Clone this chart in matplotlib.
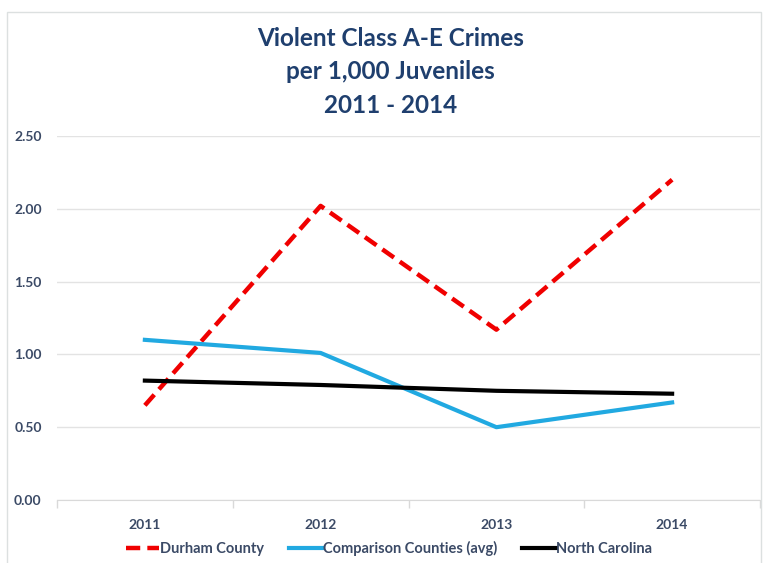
import matplotlib.pyplot as plt
from matplotlib.patches import Rectangle

years = ["2011", "2012", "2013", "2014"]
durham = [0.65, 2.02, 1.17, 2.20]
comparison = [1.10, 1.01, 0.50, 0.67]
north_carolina = [0.82, 0.79, 0.75, 0.73]
y_ticks = [0.0, 0.5, 1.0, 1.5, 2.0, 2.5]

title_color = "#1F3F6E"
tick_color = "#3B4A66"
font = ["Lato", "DejaVu Sans"]

fig = plt.figure(figsize=(7.63, 5.63), dpi=100)
fig.patches.append(Rectangle((7 / 763, -0.01), 754 / 763, 1 - 12 / 563 + 0.01,
                             transform=fig.transFigure, fill=False,
                             edgecolor="#DCE0E0", linewidth=1.0))

ax = fig.add_axes([57 / 763, 63 / 563, 703 / 763, 364 / 563])
x = range(len(years))
ax.plot(x, durham, color="#F00000", linewidth=3.2, linestyle=(0, (3.2, 1.6)),
        label="Durham County", solid_capstyle="butt")
ax.plot(x, comparison, color="#21A9E1", linewidth=3.0, label="Comparison Counties (avg)")
ax.plot(x, north_carolina, color="black", linewidth=3.0, label="North Carolina")

ax.set_xlim(-0.5, len(years) - 0.5)
ax.set_ylim(0, 2.5)
ax.set_yticks(y_ticks)
ax.set_yticklabels([f"{v:.2f}" for v in y_ticks])
ax.set_xticks(list(x))
ax.set_xticklabels(years)
ax.set_xticks([i + 0.5 for i in range(-1, len(years))], minor=True)
ax.tick_params(axis="x", which="major", length=0, pad=14)
ax.tick_params(axis="x", which="minor", length=6, color="#D9D9D9", width=1)
ax.tick_params(axis="y", length=0, pad=11)
for lab in ax.get_xticklabels() + ax.get_yticklabels():
    lab.set_fontfamily(font)
    lab.set_fontweight("bold")
    lab.set_fontsize(10)
    lab.set_color(tick_color)

ax.grid(axis="y", color="#E3E3E3", linewidth=1)
ax.set_axisbelow(True)
for side in ["top", "right", "left"]:
    ax.spines[side].set_visible(False)
ax.spines["bottom"].set_color("#D9D9D9")

fig.text(0.512, 0.952, "Violent Class A-E Crimes\nper 1,000 Juveniles\n2011 - 2014",
         ha="center", va="top", fontsize=17.5, fontweight="bold", color=title_color,
         family=font, linespacing=1.55)

leg = fig.legend(loc="center", bbox_to_anchor=(0.51, 0.025), ncol=3, frameon=False,
                 handlelength=2.3, handletextpad=0.05, columnspacing=1.7,
                 prop={"family": font, "weight": "bold", "size": 10.5})
for t in leg.get_texts():
    t.set_color(tick_color)

fig.savefig("out.png", dpi=100)
